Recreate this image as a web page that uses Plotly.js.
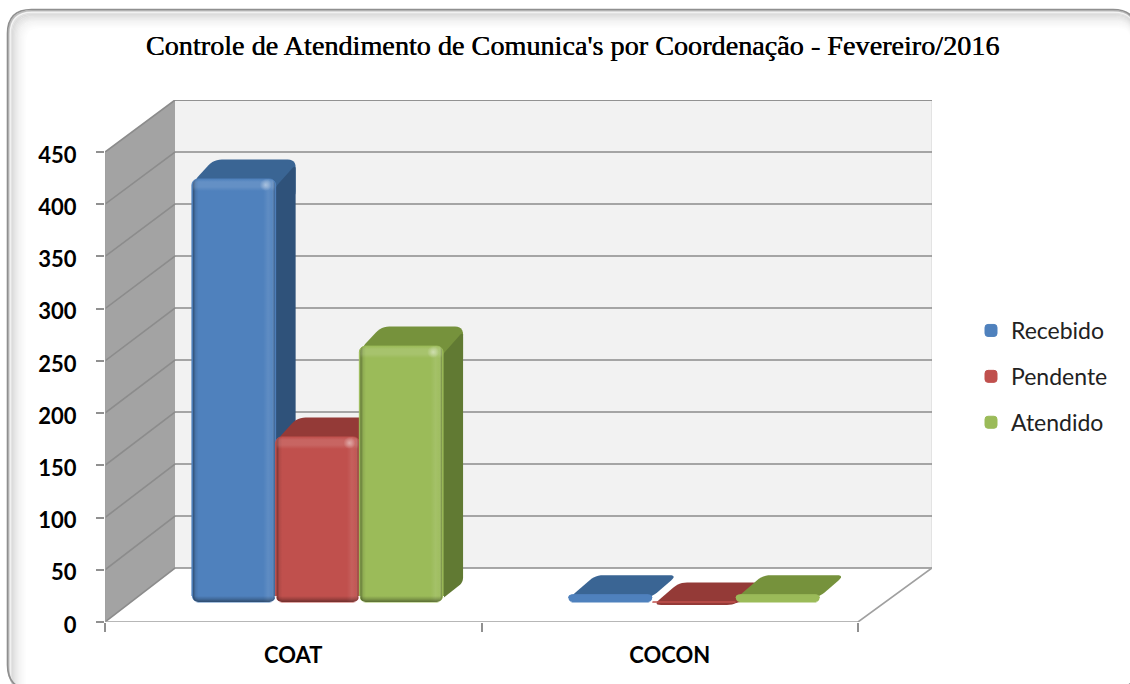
<!DOCTYPE html>
<html><head><meta charset="utf-8">
<script src="https://cdn.plot.ly/plotly-3.0.1.min.js"></script>
<style>html,body{margin:0;padding:0;background:#fff}#c{width:1130px;height:684px}</style>
</head><body><div id="c"></div>
<script>
var categories = ['COAT', 'COCON'];
var seriesNames = ['Recebido', 'Pendente', 'Atendido'];
var recebido = [405, 7];
var pendente = [158, 0];
var atendido = [245, 7];
var yTicks = [0, 50, 100, 150, 200, 250, 300, 350, 400, 450];
var frontColors = ['#4F81BD', '#C0504D', '#9BBB59'];
var topColors = ['#3A6594', '#943A37', '#76923C'];
var sideColors = ['#2F527A', '#7C302E', '#617A33'];

var series = [recebido, pendente, atendido];
var W = 1130, H = 684;
var L = 105, R = 932, T = 100, B = 622;
var pxPerCat = 376.5, pxPerVal = 470 / 450;
var xMax = (R - L) / pxPerCat, yMax = (B - T) / pxPerVal;
function dxv(px) { return px / pxPerCat; }
function dyv(px) { return px / pxPerVal; }
var floorV = dyv(20);
var depthXByCat = [21, 26], depthY = 19.5;
var groupCenter = 0.5644, groupWidth = 0.667, barW = groupWidth / 3;

function poly(pts) { return { x: pts.map(function (p) { return p[0]; }), y: pts.map(function (p) { return p[1]; }) }; }
// rounds polygon corners (data coordinates), radius given in pixels
function roundPoly(pts, r) {
  var out = [], n = pts.length;
  for (var i = 0; i < n; i++) {
    var p = pts[i], a = pts[(i + n - 1) % n], b = pts[(i + 1) % n];
    var ax = (a[0] - p[0]) * pxPerCat, ay = (a[1] - p[1]) * pxPerVal;
    var bx = (b[0] - p[0]) * pxPerCat, by = (b[1] - p[1]) * pxPerVal;
    var la = Math.hypot(ax, ay), lb = Math.hypot(bx, by);
    var ra = Math.min(r, la / 2), rb = Math.min(r, lb / 2);
    for (var k = 0; k <= 6; k++) {
      var t = k / 6, u = 1 - t;
      var sx = u * u * (ax / la * ra) + t * t * (bx / lb * rb);
      var sy = u * u * (ay / la * ra) + t * t * (by / lb * rb);
      out.push([p[0] + sx / pxPerCat, p[1] + sy / pxPerVal]);
    }
  }
  return out;
}
function backY(v) { return dyv(54) + v * (468 / 450) / pxPerVal; }
function fillTrace(pts, color, onTop) {
  var p = poly(pts);
  var tr = { x: p.x, y: p.y, mode: 'none', fill: 'toself', fillcolor: color, showlegend: false, hoverinfo: 'skip' };
  if (onTop) { tr.xaxis = 'x2'; tr.yaxis = 'y2'; }
  return tr;
}

var data = [];
// walls
data.push(fillTrace([[0, 0], [dxv(70), dyv(54)], [dxv(70), dyv(522)], [0, 450]], '#A3A3A3'));
data.push(fillTrace([[dxv(70), dyv(54)], [xMax, dyv(54)], [xMax, yMax], [dxv(70), yMax]], '#F2F2F2'));
// right edge of the back wall
data.push({ x: [xMax, xMax], y: [backY(0), yMax], mode: 'lines', line: { color: '#DEDEDE', width: 1.5 }, showlegend: false, hoverinfo: 'skip' });
// gridlines across side wall and back wall
var gx = [], gy = [];
yTicks.forEach(function (v) {
  gx.push(0, dxv(70), xMax, null);
  gy.push(v, backY(v), backY(v), null);
});
gx.push(dxv(70), xMax, null); gy.push(yMax, yMax, null);
data.push({ x: gx, y: gy, mode: 'lines', line: { color: '#8C8C8C', width: 1.6 }, showlegend: false, hoverinfo: 'skip' });
// floor outline and left edge
var ex = [0, 0, null, 0, categories.length, xMax];
var ey = [0, 450, null, 0, 0, dyv(54)];
data.push({ x: ex, y: ey, mode: 'lines', line: { color: '#A0A0A0', width: 1.6 }, showlegend: false, hoverinfo: 'skip' });

function barX(c, s) { return c + groupCenter - groupWidth / 2 + s * barW; }

// depth faces, under the bars
series.forEach(function (vals, s) {
  vals.forEach(function (v, c) {
    var x0 = barX(c, s) + dxv(1), x1 = barX(c, s) + barW - dxv(1), top = floorV + v;
    var ddx = dxv(depthXByCat[c]), ddy = dyv(depthY);
    var tall = v > 50;
    var lowEdge = tall ? floorV + ddy * 0.2 : top - dyv(3);
    var silhouette = tall
      ? [[x0, top - dyv(3)], [x0 + ddx, top + ddy], [x1 + ddx, top + ddy], [x1 + ddx, top - dyv(20)], [x1, top - dyv(20)]]
      : [[x0, lowEdge], [x0 + ddx, top + ddy], [x1 + ddx, top + ddy], [x1, lowEdge]];
    data.push(fillTrace(roundPoly(silhouette, 8), topColors[s]));
    if (tall) {
      data.push(fillTrace(roundPoly([[x1 - dxv(4), floorV], [x1 + ddx, floorV + ddy], [x1 + ddx, top + ddy - dyv(5)], [x1, top - dyv(9)]], 5), sideColors[s]));
    }
  });
});

// real bars, on an overlaying pair of axes so they cover all depth faces
series.forEach(function (vals, s) {
  data.push({
    type: 'bar', name: seriesNames[s], legendgroup: seriesNames[s],
    x: categories.map(function (_, c) { return c + groupCenter; }),
    y: vals, base: floorV, xaxis: 'x2', yaxis: 'y2',
    marker: { color: frontColors[s], line: { width: 1, color: frontColors[s] } },
    hovertemplate: seriesNames[s] + ': %{y}<extra></extra>'
  });
});

// bevel shading on the fronts
series.forEach(function (vals, s) {
  vals.forEach(function (v, c) {
    if (v < 1) return;
    var x0 = barX(c, s), x1 = x0 + barW, b = floorV, t = floorV + v;
    var tall = v > 50;
    var shape = poly(roundPoly([[x0 + dxv(1), b], [x1 - dxv(1), b], [x1 - dxv(1), t], [x0 + dxv(1), t]], tall ? 6 : 3));
    var hp = v * pxPerVal;
    if (tall) {
      data.push({
        x: shape.x, y: shape.y, xaxis: 'x2', yaxis: 'y2', mode: 'none', fill: 'toself', showlegend: false, hoverinfo: 'skip',
        fillgradient: { type: 'horizontal', colorscale: [
          [0, 'rgba(0,0,0,0.38)'], [0.035, 'rgba(0,0,0,0.08)'], [0.07, 'rgba(0,0,0,0)'],
          [0.86, 'rgba(255,255,255,0)'], [0.92, 'rgba(255,255,255,0.09)'], [0.965, 'rgba(255,255,255,0.05)'], [1, 'rgba(0,0,0,0.3)']
        ] }
      });
      data.push({
        x: shape.x, y: shape.y, xaxis: 'x2', yaxis: 'y2', mode: 'none', fill: 'toself', showlegend: false, hoverinfo: 'skip',
        fillgradient: { type: 'vertical', colorscale: [
          [0, 'rgba(0,0,0,0.42)'], [3 / hp, 'rgba(0,0,0,0.18)'], [6 / hp, 'rgba(0,0,0,0)'],
          [1 - 12 / hp, 'rgba(255,255,255,0)'], [1 - 8 / hp, 'rgba(255,255,255,0.12)'], [1 - 3 / hp, 'rgba(255,255,255,0.12)'], [1, 'rgba(255,255,255,0)']
        ] }
      });
      data.push({
        x: [x1 - dxv(10)], y: [t - dyv(6)], xaxis: 'x2', yaxis: 'y2', mode: 'markers', showlegend: false, hoverinfo: 'skip',
        marker: { size: 12, color: 'rgba(255,255,255,0)', line: { width: 0 }, gradient: { type: 'radial', color: 'rgba(255,255,255,0.42)' } }
      });
    }
    // bottom rounded corners: what lies behind shows through
    var r = tall ? 6 : 4;
    [[x0, 1, 0], [x1, -1, 1]].forEach(function (q) {
      var behind = (!tall && q[2] === 0 && s > 0) ? topColors[s - 1] : '#FFFFFF';
      var rx = dxv(r), ry = dyv(r), cm = [[q[0], b - dyv(1)]];
      for (var k = 0; k <= 6; k++) {
        var a = k / 6 * Math.PI / 2;
        cm.push([q[0] + q[1] * rx * (1 - Math.sin(a)), b + ry * (1 - Math.cos(a))]);
      }
      cm.push([q[0] - q[1] * dxv(1), b + ry]);
      data.push(fillTrace(cm, behind, true));
    });
  });
});

// chart frame
function fx(px) { return (px - L) / (R - L); }
function fy(py) { return (B - py) / (B - T); }
function framePath(i) {
  var x0 = 7.5 + i, y0 = 9.5 + i, x1 = 1137 - i * 0.3, y1 = 689 + i * 2, r = Math.max(24 - i * 0.6, 4);
  return 'M' + fx(x0) + ',' + fy(y0 + r) +
    ' Q' + fx(x0) + ',' + fy(y0) + ' ' + fx(x0 + r) + ',' + fy(y0) +
    ' L' + fx(x1 - r) + ',' + fy(y0) +
    ' Q' + fx(x1) + ',' + fy(y0) + ' ' + fx(x1) + ',' + fy(y0 + r) +
    ' L' + fx(x1) + ',' + fy(y1 - r) +
    ' Q' + fx(x1) + ',' + fy(y1) + ' ' + fx(x1 - r) + ',' + fy(y1) +
    ' L' + fx(x0 + r) + ',' + fy(y1) +
    ' Q' + fx(x0) + ',' + fy(y1) + ' ' + fx(x0) + ',' + fy(y1 - r) + ' Z';
}
var ringColors = ['#8F8F8F', '#BDBDBD', '#F4F4F4', '#E2E2E2', '#DCDCDC', '#E0E0E0', '#E5E5E5', '#E9E9E9', '#EDEDED', '#F1F1F1',
  '#F4F4F4', '#F6F6F6', '#F8F8F8', '#FAFAFA', '#FCFCFC', '#FDFDFD'];
var shapes = ringColors.map(function (col, i) {
  return { type: 'path', xref: 'paper', yref: 'paper', path: framePath(i * 1.2), line: { color: col, width: 1.6 }, layer: 'below' };
}).reverse();

var axisFont = { family: 'Lato, sans-serif', size: 22, color: '#000', weight: 700 };
var layout = {
  width: W, height: H, autosize: false,
  margin: { l: L, r: W - R, t: T, b: H - B, pad: 0, autoexpand: false },
  paper_bgcolor: '#FFFFFF', plot_bgcolor: 'rgba(0,0,0,0)',
  barmode: 'group', bargap: 1 - groupWidth, bargroupgap: 0, barcornerradius: 6,
  title: { text: "Controle de Atendimento de Comunica's por Coordenação - Fevereiro/2016",
    x: 572.5 / W, xanchor: 'center', xref: 'container', y: 1 - 45 / H, yanchor: 'middle', yref: 'container',
    font: { family: '"Liberation Serif", serif', size: 28.2, color: '#000', shadow: '0.5px 0 0 #000' } },
  xaxis: { range: [0, xMax], tickmode: 'array', tickvals: [0.5, 1.5], ticktext: categories, ticks: '', showgrid: false, zeroline: false, showline: false,
    ticklabelstandoff: 18, tickfont: axisFont, fixedrange: true,
    minor: { tickmode: 'array', tickvals: [0, 1, 2], ticks: 'outside', ticklen: 9, tickwidth: 1.6, tickcolor: '#909090', showgrid: false } },
  yaxis: { range: [0, yMax], tickmode: 'array', tickvals: yTicks, ticks: 'outside', ticklen: 8, tickwidth: 1.6, tickcolor: '#909090', showgrid: false, zeroline: false, showline: false,
    ticklabelstandoff: 15, ticklabelshift: 3, tickfont: axisFont, fixedrange: true },
  xaxis2: { range: [0, xMax], overlaying: 'x', visible: false, fixedrange: true },
  yaxis2: { range: [0, yMax], overlaying: 'y', visible: false, fixedrange: true },
  legend: { x: fx(971), xanchor: 'left', y: fy(309), yanchor: 'top', traceorder: 'grouped', tracegroupgap: 13,
    font: { family: 'Lato, sans-serif', size: 23, color: '#222' }, bgcolor: 'rgba(0,0,0,0)' },
  shapes: shapes,
  showlegend: true
};
Plotly.newPlot('c', data, layout, { displayModeBar: false });
</script></body></html>
